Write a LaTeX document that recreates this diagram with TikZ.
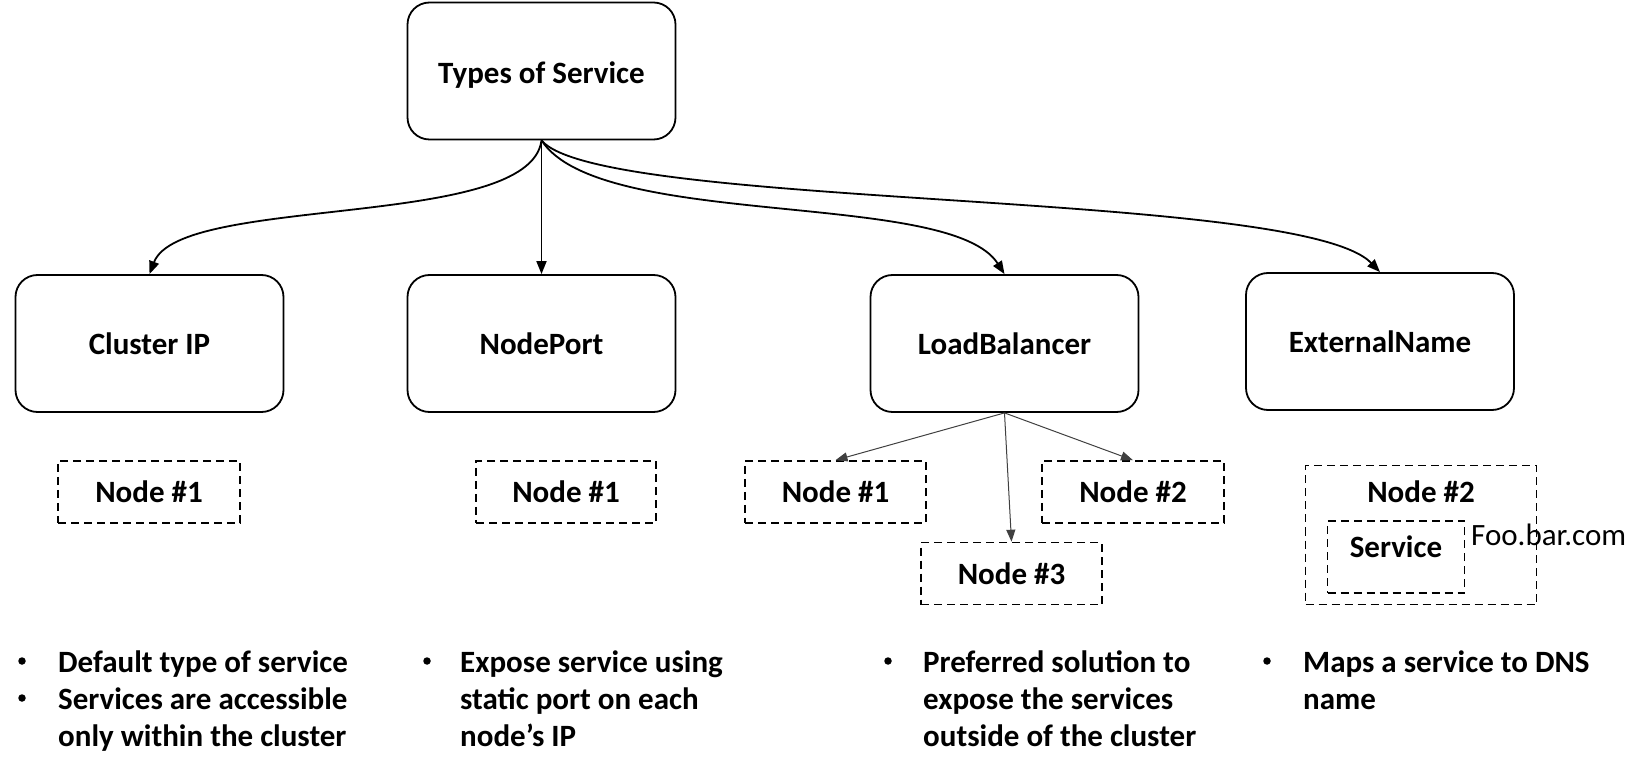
\documentclass[tikz,border=0pt]{standalone}
\usepackage{fontspec}
\setmainfont{Carlito}
\usetikzlibrary{arrows.meta}
\begin{document}
\begin{tikzpicture}[x=1pt,y=-1pt,
  every node/.style={font=\fontsize{31}{37}\selectfont\bfseries},
  mainbox/.style={draw, line width=1.8pt, rounded corners=22pt, minimum width=268pt, minimum height=137pt, inner sep=0pt},
  dbox/.style={draw, line width=1.6pt, dash pattern=on 8pt off 5pt, minimum height=62pt, inner sep=0pt},
  conn/.style={line width=1.8pt, -{Triangle[length=13pt,width=10pt]}},
  subconn/.style={line width=1pt, draw=black!75, -{Triangle[length=12pt,width=9pt]}},
  lineitem/.style={anchor=base west, inner sep=0pt},
  bulletmark/.style={circle, fill=black, inner sep=0pt, minimum size=7.5pt},
  plaintext/.style={font=\fontsize{31}{37}\selectfont, anchor=west, inner sep=0pt}
]
\useasboundingbox (0,0) rectangle (1650,775);

% main boxes
\node[mainbox] (top) at (541.5,71) {\raisebox{-4pt}[\height][\depth]{Types of Service}};
\node[mainbox] (cip) at (149.5,343.5) {Cluster IP};
\node[mainbox] (np) at (541.5,343.5) {NodePort};
\node[mainbox] (lb) at (1004.5,343.5) {LoadBalancer};
\node[mainbox] (en) at (1380,341.5) {ExternalName};

% dashed node boxes
\node[dbox, minimum width=182pt] (n1a) at (149,492) {Node \#1};
\node[dbox, minimum width=180pt] (n1b) at (566,492) {Node \#1};
\node[dbox, minimum width=181pt] (lbn1) at (835.5,492) {Node \#1};
\node[dbox, minimum width=182pt] (lbn2) at (1133,492) {Node \#2};
\node[dbox, minimum width=181pt] (lbn3) at (1011.5,573.5) {Node \#3};

\node[dbox, minimum width=231pt, minimum height=139pt] (en2) at (1421,535) {};
\node[inner sep=0pt] (en2t) at (1421,492) {Node \#2};
\node[dbox, minimum width=137pt, minimum height=72pt] (svc) at (1396,557) {};
\node[inner sep=0pt] (svct) at (1396,547) {Service};
\node[plaintext] (foo) at (1471,535) {Foo.bar.com};

% connectors from top
\draw[conn] (top.south) .. controls +(-11.5,90) and +(30.5,-80) .. (cip.north);
\draw[conn] (top.south) -- (np.north);
\draw[conn] (top.south) .. controls +(58.5,90) and +(-54.5,-85) .. (lb.north);
\draw[conn] (top.south) .. controls +(58.5,70) and +(-80,-83) .. (en.north);

% load balancer fan-out
\draw[subconn] (lb.south) -- (lbn1.north);
\draw[subconn] (lb.south) -- (lbn2.north);
\draw[subconn] (lb.south) -- (lbn3.north);

% bullets column 1
\node[bulletmark] (m1a) at (22,661) {};
\node[lineitem] (t1a) at (58,672) {Default type of service};
\node[bulletmark] (m1b) at (22,698) {};
\node[lineitem] (t1b) at (58,709) {Services are accessible};
\node[lineitem] (t1c) at (58,746) {only within the cluster};

% column 2
\node[bulletmark] (m2a) at (427,661) {};
\node[lineitem] (t2a) at (460,672) {Expose service using};
\node[lineitem] (t2b) at (460,709) {static port on each};
\node[lineitem] (t2c) at (460,746) {node’s IP};

% column 3
\node[bulletmark] (m3a) at (888,661) {};
\node[lineitem] (t3a) at (923,672) {Preferred solution to};
\node[lineitem] (t3b) at (923,709) {expose the services};
\node[lineitem] (t3c) at (923,746) {outside of the cluster};

% column 4
\node[bulletmark] (m4a) at (1267,661) {};
\node[lineitem] (t4a) at (1303,672) {Maps a service to DNS};
\node[lineitem] (t4b) at (1303,709) {name};
\end{tikzpicture}
\end{document}
